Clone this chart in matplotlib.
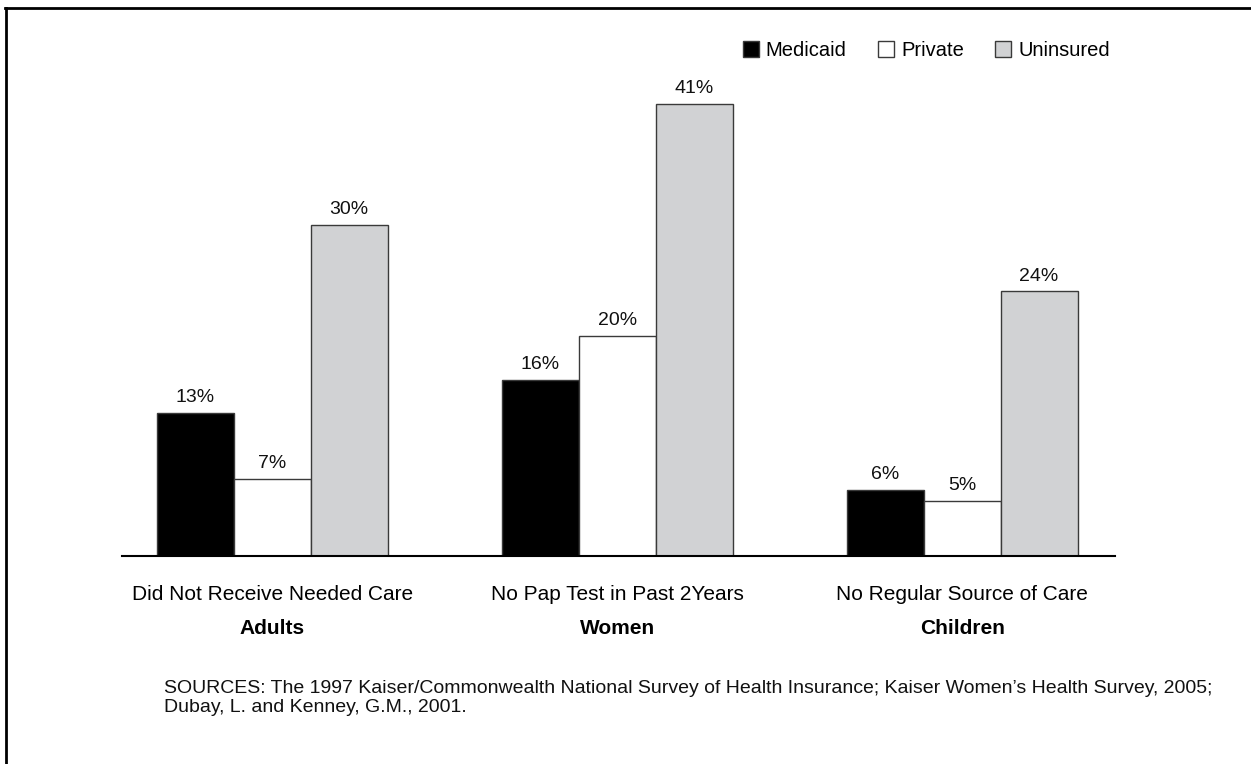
import matplotlib
matplotlib.use("Agg")
import matplotlib.pyplot as plt
from matplotlib.lines import Line2D
from matplotlib.patches import Patch
import numpy as np

plt.rcParams['font.family'] = ['Liberation Sans', 'DejaVu Sans']

# Data
measures = ["Did Not Receive Needed Care", "No Pap Test in Past 2Years", "No Regular Source of Care"]
populations = ["Adults", "Women", "Children"]
series = ["Medicaid", "Private", "Uninsured"]
medicaid = [13, 16, 6]
private = [7, 20, 5]
uninsured = [30, 41, 24]
source_note = ("SOURCES: The 1997 Kaiser/Commonwealth National Survey of Health Insurance; "
               "Kaiser Women\u2019s Health Survey, 2005;\nDubay, L. and Kenney, G.M., 2001.")

colors = ["#000000", "#ffffff", "#d1d2d4"]
W, H = 1251, 764
fig = plt.figure(figsize=(W / 100, H / 100), dpi=100)
fig.patch.set_facecolor("white")

ax = fig.add_axes([122 / W, (H - 556) / H, (1115 - 122) / W, (556 - 60) / H])
x = np.arange(len(measures))
bw = 0.223
for k, (vals, col) in enumerate(zip([medicaid, private, uninsured], colors)):
    pos = x + (k - 1) * bw
    ax.bar(pos, vals, width=bw, color=col, edgecolor="#3a3a3a", linewidth=1.0, zorder=2)
    for px, v in zip(pos, vals):
        ax.annotate(f"{v}%", xy=(px, v), xytext=(0, 5), textcoords="offset points",
                    ha="center", va="bottom", fontsize=14, color="#111111")

ax.set_xlim(-0.435, 2.443)
ax.set_ylim(0, 45)
for s in ["top", "right", "left"]:
    ax.spines[s].set_visible(False)
ax.spines["bottom"].set_linewidth(1.5)
ax.spines["bottom"].set_zorder(3)
ax.set_xticks([])
ax.set_yticks([])

for i, (m, p) in enumerate(zip(measures, populations)):
    ax.annotate(m, xy=(i, 0), xycoords=("data", "axes fraction"), xytext=(0, -27.5),
                textcoords="offset points", ha="center", va="center", fontsize=15)
    ax.annotate(p, xy=(i, 0), xycoords=("data", "axes fraction"), xytext=(0, -52),
                textcoords="offset points", ha="center", va="center", fontsize=15,
                fontweight="bold")

handles = [Patch(facecolor=c, edgecolor="#3a3a3a", linewidth=1.0) for c in colors]
fig.legend(handles, series, loc="upper right", bbox_to_anchor=(1118 / W, 1 - 33 / H),
           ncol=3, frameon=False, fontsize=14.5, handlelength=0.8, handleheight=0.8,
           handletextpad=0.35, columnspacing=1.55, borderaxespad=0)

fig.text(164 / W, 1 - 680 / H, source_note, ha="left", va="top", fontsize=14,
         linespacing=1.12, color="#111111")

# Page frame: top and left rules
fig.add_artist(Line2D([5 / W, 1], [1 - 8 / H, 1 - 8 / H], transform=fig.transFigure,
                      color="black", linewidth=2))
fig.add_artist(Line2D([6 / W, 6 / W], [0, 1 - 8 / H], transform=fig.transFigure,
                      color="black", linewidth=2))

fig.savefig("out.png", dpi=100, facecolor="white")
